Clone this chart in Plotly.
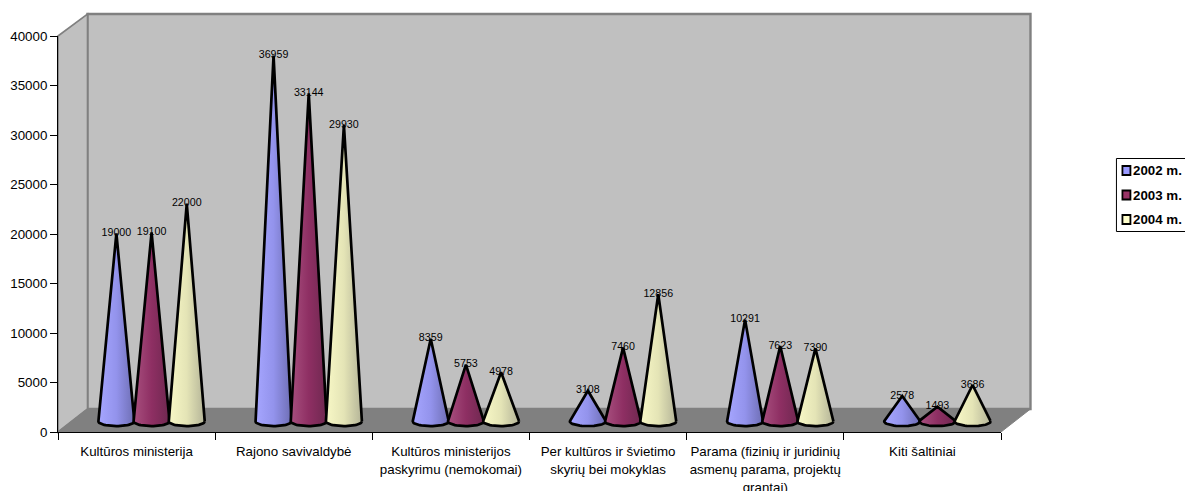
import math
import plotly.graph_objects as go

categories = [
    "Kultūros ministerija",
    "Rajono savivaldybė",
    "Kultūros ministerijos<br>paskyrimu (nemokomai)",
    "Per kultūros ir švietimo<br>skyrių bei mokyklas",
    "Parama (fizinių ir juridinių<br>asmenų parama, projektų<br>grantai)",
    "Kiti šaltiniai",
]
series_names = ["2002 m.", "2003 m.", "2004 m."]
values_2002 = [19000, 36959, 8359, 3108, 10291, 2578]
values_2003 = [19100, 33144, 5753, 7460, 7623, 1493]
values_2004 = [22000, 29930, 4978, 12856, 7390, 3686]
y_ticks = [0, 5000, 10000, 15000, 20000, 25000, 30000, 35000, 40000]

# plot-area geometry in pixels
W, H = 1185, 491
L, R, T, B = 57.5, 1001.0, 36.0, 432.0
DX, DY = 29.5, 23.0               # depth of the 3-D box
CAT_PX = (R - L) / 6
Y_PX = (B - T) / 40000


def px(x):
    return (x - L) / (R - L)


def py(y):
    return (B - y) / (B - T)


def path(points):
    return "M " + " L ".join(f"{px(x)},{py(y)}" for x, y in points) + " Z"


FILL = {
    0: [[0, "#A6A6FF"], [0.5, "#9393EC"], [1, "#6E6EB4"]],
    1: [[0, "#A8507F"], [0.5, "#8E2F63"], [1, "#6F2850"]],
    2: [[0, "#F8F8C6"], [0.5, "#E4E4B6"], [1, "#B4B498"]],
}
SWATCH = ["#9999FF", "#993366", "#FFFFCC"]

CONE_SPACING = 35.2 / CAT_PX      # x units between cones
CONE_SHIFT = 15.0 / CAT_PX        # half of the box depth in x units
CONE_A = 18.0 / CAT_PX            # base half width in x units
CONE_B = 4.6 / Y_PX               # base half height in y units
BASE_Y = 10.5 / Y_PX              # base centre, half of the box depth in y units

fig = go.Figure()
all_values = [values_2002, values_2003, values_2004]

# value labels sit behind the cones
for j, vals in enumerate(all_values):
    fig.add_trace(go.Scatter(
        x=[i + 0.5 + CONE_SHIFT + (j - 1) * CONE_SPACING for i in range(6)],
        y=[v + BASE_Y for v in vals],
        text=[str(v) for v in vals], mode="text", textposition="middle center",
        textfont=dict(size=10.67, color="#000000", family="Liberation Sans"),
        showlegend=False, hoverinfo="skip", cliponaxis=False))

for i in range(6):
    for j, vals in enumerate(all_values):
        cx = i + 0.5 + CONE_SHIFT + (j - 1) * CONE_SPACING
        h = vals[i]
        t0 = math.asin(min(1.0, CONE_B / h))
        n = 30
        ts = [t0 - (math.pi + 2 * t0) * k / n for k in range(n + 1)]
        xs = [cx + CONE_A * math.cos(t) for t in ts] + [cx]
        ys = [BASE_Y + CONE_B * math.sin(t) for t in ts] + [BASE_Y + h]
        xs.append(xs[0])
        ys.append(ys[0])
        fig.add_trace(go.Scatter(
            x=xs, y=ys, mode="lines", fill="toself",
            fillgradient=dict(type="horizontal", colorscale=FILL[j]),
            line=dict(color="#000000", width=2.7),
            name=series_names[j], showlegend=False, hoverinfo="skip"))

GRAY = "#808080"
WALL = "#C0C0C0"
shapes = [
    # back wall
    dict(type="path", path=path([(L + DX, T - 22), (R + DX, T - 22), (R + DX, B - DY), (L + DX, B - DY)]),
         fillcolor=WALL, line=dict(color=GRAY, width=2.4)),
    # left wall
    dict(type="path", path=path([(L, T), (L + DX, T - 22), (L + DX, B - DY), (L, B)]),
         fillcolor=WALL, line=dict(color=GRAY, width=1.6)),
    # floor
    dict(type="path", path=path([(L, B), (R, B), (R + DX, B - DY), (L + DX, B - DY)]),
         fillcolor=GRAY, line=dict(color=GRAY, width=1)),
    # legend box
    dict(type="rect", x0=px(1116.5), x1=px(1187), y0=py(231.5), y1=py(158.5),
         fillcolor="#FFFFFF", line=dict(color="#000000", width=1)),
]
for s in shapes:
    s.update(xref="paper", yref="paper", layer="below")

annotations = []
for name, color, yc in zip(series_names, SWATCH, [170.5, 195.0, 219.5]):
    shapes.append(dict(type="rect", xref="paper", yref="paper", layer="above",
                       x0=px(1122.5), x1=px(1130.5), y0=py(yc + 4.5), y1=py(yc - 4.5),
                       fillcolor=color, line=dict(color="#000000", width=1.8)))
    annotations.append(dict(xref="paper", yref="paper", x=px(1133.5), y=py(yc),
                            xanchor="left", yanchor="middle", showarrow=False, text=f"<b>{name}</b>",
                            font=dict(size=13.33, color="#000000", family="Liberation Sans"),
                            borderpad=0, borderwidth=0))

LABEL_SIZE = 13.33
ticktext = [
    "<br>".join(f'<span style="font-size:{LABEL_SIZE}px">{line}</span>' for line in c.split("<br>"))
    for c in categories
]

fig.update_layout(
    width=W, height=H, autosize=False,
    margin=dict(l=L, r=W - R, t=T, b=H - B, pad=0, autoexpand=False),
    paper_bgcolor="#FFFFFF", plot_bgcolor="rgba(0,0,0,0)",
    showlegend=False, shapes=shapes, annotations=annotations,
    font=dict(family="Liberation Sans", color="#000000"),
    xaxis=dict(range=[0, 6], tickmode="array", tickvals=[k + 0.5 for k in range(6)], ticktext=ticktext,
               showgrid=False, zeroline=False, showline=True, linecolor="#000000", linewidth=1,
               ticks="", ticklabelstandoff=6, tickangle=0,
               tickfont=dict(size=13.85, color="#000000", family="Liberation Sans"),
               minor=dict(tickmode="array", tickvals=list(range(7)), ticks="outside", ticklen=7,
                          tickwidth=1, tickcolor="#000000", showgrid=False)),
    yaxis=dict(range=[0, 40000], tickmode="array", tickvals=y_ticks, ticktext=[str(v) for v in y_ticks],
               showgrid=False, zeroline=False, showline=True, linecolor="#000000", linewidth=1,
               ticks="outside", ticklen=7, tickwidth=1, tickcolor="#000000",
               tickfont=dict(size=13.33, color="#000000", family="Liberation Sans")),
)

fig.write_html("out.html", config=dict(displayModeBar=False),
               post_script="document.body.style.margin='0';document.documentElement.style.overflow='hidden';")
